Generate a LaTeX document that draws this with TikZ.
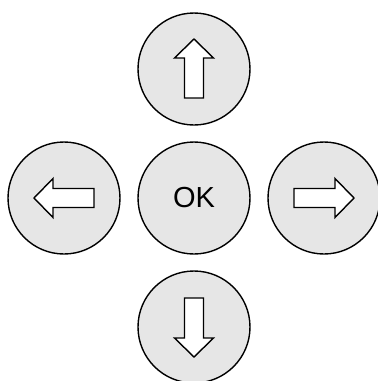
\documentclass[tikz,border=0pt]{standalone}
\usepackage{fontspec}
\setmainfont{Liberation Sans}
\definecolor{btngray}{HTML}{E6E6E6}
\begin{document}
\begin{tikzpicture}[x=1pt,y=-1pt,
  btn/.style={circle,draw=black,fill=btngray,line width=1.4pt,minimum size=112pt,inner sep=0pt},
  arr/.style={draw=black,fill=white,line width=1.4pt,line join=miter}]
\useasboundingbox (0,0) rectangle (378,381);
\node[btn] (up) at (194,69) {};
\node[btn] (left) at (64,198) {};
\node[btn] (ok) at (194,198) {\fontsize{29}{29}\selectfont OK};
\node[btn] (right) at (324,198) {};
\node[btn] (down) at (194,327) {};
\draw[arr,shift={(up.center)}] (0,-30) -- (19.5,-11) -- (9.5,-11) -- (9.5,29) -- (-9.5,29) -- (-9.5,-11) -- (-19.5,-11) -- cycle;
\draw[arr,shift={(down.center)}] (0,30) -- (19.5,11) -- (9.5,11) -- (9.5,-29) -- (-9.5,-29) -- (-9.5,11) -- (-19.5,11) -- cycle;
\draw[arr,shift={(left.center)}] (-30,0) -- (-11,19.5) -- (-11,9.5) -- (30,9.5) -- (30,-9.5) -- (-11,-9.5) -- (-11,-19.5) -- cycle;
\draw[arr,shift={(right.center)}] (30,0) -- (11,19.5) -- (11,9.5) -- (-30,9.5) -- (-30,-9.5) -- (11,-9.5) -- (11,-19.5) -- cycle;
\end{tikzpicture}
\end{document}
